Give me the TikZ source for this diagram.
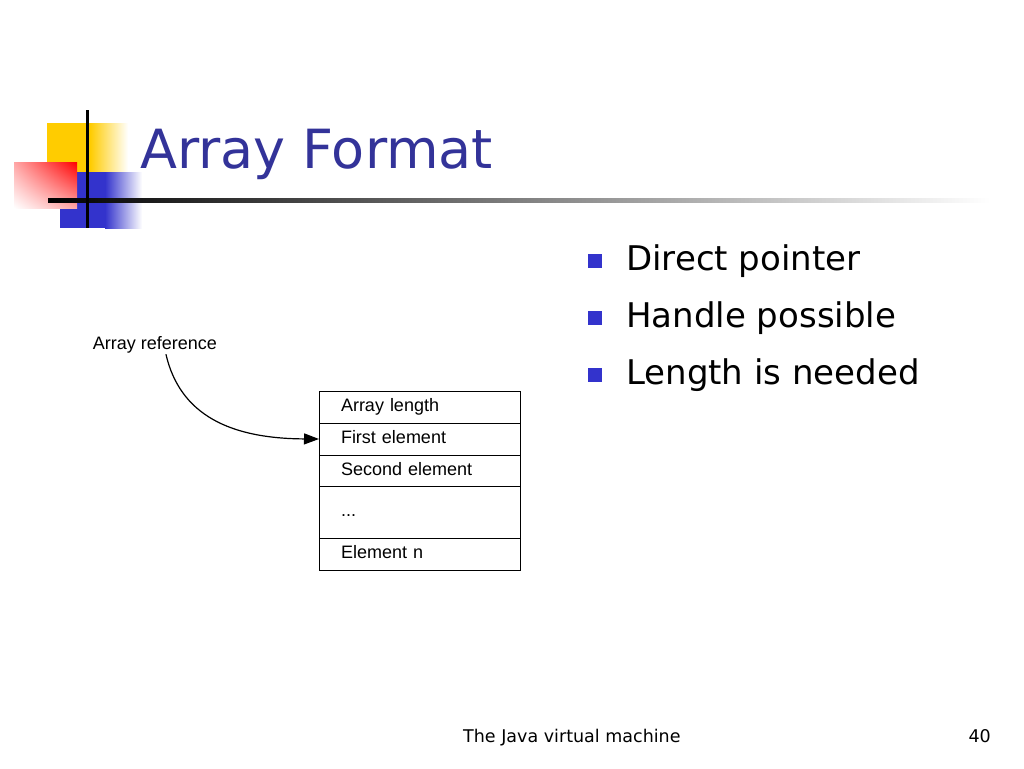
\documentclass[tikz,border=0pt]{standalone}
\usepackage{fontspec}
\setmainfont{DejaVu Sans}
\newfontfamily\arialfont{Liberation Sans}
\usepackage{xcolor}
\usetikzlibrary{positioning, arrows.meta, shadings}

\definecolor{titleblue}{RGB}{51,51,153}
\definecolor{bulletblue}{RGB}{51,51,204}
\definecolor{logoyellow}{RGB}{255,204,0}
\definecolor{logored}{RGB}{255,0,0}
\definecolor{logoblue}{RGB}{51,51,204}

\tikzset{
  cell/.style = {draw, line width=1pt, outer sep=0pt, minimum width=201pt,
    inner xsep=22pt, inner ysep=0pt, text width=157pt, align=left,
    text height=13pt, text depth=4pt, font=\arialfont\fontsize{18}{20}\selectfont},
  label18/.style = {inner sep=0pt, font=\arialfont\fontsize{18}{20}\selectfont},
  bullet/.style = {fill=bulletblue, minimum size=14pt, inner sep=0pt},
  item/.style = {inner sep=0pt, anchor=base west, font=\fontsize{34}{40}\selectfont},
  footer/.style = {inner sep=0pt, font=\fontsize{17.5}{20}\selectfont}
}

\begin{document}
\begin{tikzpicture}[x=1pt, y=-1pt]
\fill [white] (0, 0) rectangle (1024, 768);
\useasboundingbox (0, 0) rectangle (1024, 768);
% logo
\fill [logoyellow] (47, 123) rectangle (90, 190);
\shade [left color=logoyellow, right color=white] (90, 123) rectangle (128, 190);
\fill [logoblue] (60, 172) rectangle (105, 228);
\shade [left color=logoblue, right color=white] (105, 172) rectangle (142, 228);
\shade [upper right=logored, upper left=logored!35!white,
  lower right=logored!35!white, lower left=white] (14, 162) rectangle (77, 208);
\shade [left color=black, right color=white] (48, 198) rectangle (990, 202);
\fill [black] (85.5, 110) rectangle (88.5, 228);
% title
\node [inner sep=0pt, anchor=base west, text=titleblue,
  font=\fontsize{54}{60}\selectfont] (title) at (140, 168) {Array Format};
% array
\node [label18, anchor=base west] (ref) at (92.7, 349.3) {Array reference};
\node [cell, anchor=north, minimum height=32pt] (len) at (419.5, 391) {Array length};
\node [cell, minimum height=32pt, below=0pt of len] (first) {First element};
\node [cell, minimum height=31pt, below=0pt of first] (second) {Second element};
\node [cell, minimum height=52pt, below=0pt of second] (dots) {...};
\node [cell, minimum height=32pt, below=0pt of dots] (last) {Element n};
\draw [-{Triangle[length=15pt, width=11pt]}, line width=1.2pt]
  ([xshift=11pt, yshift=-1pt]ref.south) .. controls (180, 415) and (230, 438.5) .. (first.west);
% bullets
\node [bullet] (b1) at (595, 261) {};
\node [bullet] (b2) at (595, 318) {};
\node [bullet] (b3) at (595, 375) {};
\node [item] (t1) at (626, 270) {Direct pointer};
\node [item] (t2) at (626, 327) {Handle possible};
\node [item] (t3) at (626, 384) {Length is needed};
% footer
\node [footer, anchor=base west] (foot) at (463, 742) {The Java virtual machine};
\node [footer, anchor=base east] (page) at (991, 742) {40};
\end{tikzpicture}
\end{document}
